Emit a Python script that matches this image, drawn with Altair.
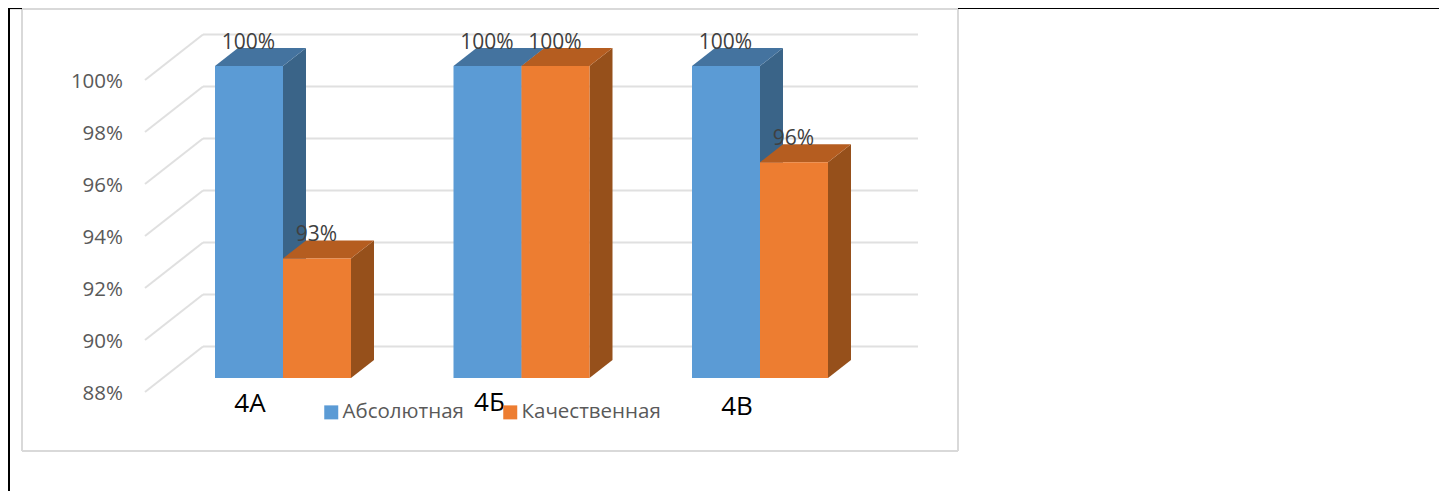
import altair as alt
import pandas as pd

categories = ["4А", "4Б", "4В"]
series_names = ["Абсолютная", "Качественная"]
absolute = [100, 100, 100]
quality = [92.6, 100, 96.3]
ticks = [88, 90, 92, 94, 96, 98, 100]
category_dy = [26, 25, 29]
category_dx = [-33, -32, -23]

W, H = 1431, 483
PX_X = 238.5      # pixels per category step
X0 = 283 - 8      # pixel of category 0 centre inside the plot
PX_Y = 26.0       # pixels per percentage point
Y0 = 378 - 8      # pixel of 88% on the bar plane


def ux(p):
    return p / PX_X


def uy(p):
    return p / PX_Y


x_scale = alt.Scale(domain=[-X0 / PX_X, (W - X0) / PX_X], nice=False, zero=False)
y_scale = alt.Scale(domain=[88 - (H - Y0) / PX_Y, 88 + Y0 / PX_Y], nice=False, zero=False)
xq = lambda f: alt.X(f, type="quantitative", scale=x_scale, axis=None)
yq = lambda f: alt.Y(f, type="quantitative", scale=y_scale, axis=None)

BAR = ux(68)
DX, DY = ux(23), uy(18)
BACK = uy(31.5)
FRONT = -uy(14)
WALL_L, WALL_R, DIAG_L = ux(203 - 283), ux(918 - 283), ux(145 - 283)

front, side, top, labels = [], [], [], []
for s, (name, vals) in enumerate(zip(series_names, [absolute, quality])):
    for c, v in enumerate(vals):
        l = c - BAR + s * BAR
        r = l + BAR
        key = f"{s}-{c}"
        front.append(dict(series=name, x=l, x2=r, y=88, y2=v))
        side += [
            dict(key=key, s=s, x=r, lo=88, hi=v),
            dict(key=key, s=s, x=r + DX, lo=88 + DY, hi=v + DY),
        ]
        top += [
            dict(key=key, s=s, y=v, l=l, r=r),
            dict(key=key, s=s, y=v + DY, l=l + DX, r=r + DX),
        ]
        labels.append(dict(x=l, y=v, t=f"{round(v)}%"))

grid_h = pd.DataFrame([dict(y=t + BACK, x=WALL_L, x2=WALL_R) for t in ticks])
grid_d = pd.DataFrame(
    [dict(k=t, x=DIAG_L, y=t + FRONT) for t in ticks] + [dict(k=t, x=WALL_L, y=t + BACK) for t in ticks]
)
cats = pd.DataFrame(
    [dict(t=n, x=i + ux(dx), y=88 - uy(dy)) for i, (n, dy, dx) in enumerate(zip(categories, category_dy, category_dx))]
)
tick_df = pd.DataFrame([dict(v=t, x=DIAG_L - ux(22), y=t + FRONT, t=f"{t}%") for t in ticks])
side_df, top_df, front_df, labels_df = map(pd.DataFrame, (side, top, front, labels))

FONT = "Open Sans"
GRID = "#E0E0E0"
FRAME = "#D9D9D9"
SIDE = ["#3A6488", "#96501B"]
TOP = ["#44739F", "#B55D20"]
COL = ["#5B9BD5", "#ED7D31"]


def deco(x, x2, y, y2, color, width):
    return alt.Chart(pd.DataFrame({"a": [0]})).mark_rule(color=color, strokeWidth=width).encode(
        x=alt.value(x), x2=alt.value(x2), y=alt.value(y), y2=alt.value(y2)
    )


frame = [
    deco(14, 950, 1, 1, FRAME, 2),
    deco(14, 950, 443, 443, FRAME, 2),
    deco(14, 14, 0, 443, FRAME, 2),
    deco(950, 950, 0, 443, FRAME, 2),
    deco(1, 14, 0.5, 0.5, "#000000", 1.2),
    deco(950, W, 0.5, 0.5, "#000000", 1.2),
    deco(1, 1, 0, H, "#000000", 2),
]

gh = alt.Chart(grid_h).mark_rule(color=GRID, strokeWidth=2).encode(x=xq("x"), x2="x2", y=yq("y"))
gd = alt.Chart(grid_d).mark_line(color=GRID, strokeWidth=2).encode(x=xq("x"), y=yq("y"), detail="k:N")

faces = []
for s in (0, 1):
    faces.append(
        alt.Chart(side_df[side_df.s == s]).mark_area(color=SIDE[s], orient="vertical").encode(
            x=xq("x"), y=alt.Y("lo", type="quantitative", scale=y_scale, axis=None, stack=None), y2="hi", detail="key:N"
        )
    )
    faces.append(
        alt.Chart(top_df[top_df.s == s]).mark_area(color=TOP[s], orient="horizontal").encode(
            y=yq("y"), x=alt.X("l", type="quantitative", scale=x_scale, axis=None, stack=None), x2="r", detail="key:N"
        )
    )

bars = alt.Chart(front_df).mark_rect().encode(
    x=xq("x"),
    x2="x2",
    y=yq("y"),
    y2="y2",
    color=alt.Color(
        "series:N",
        scale=alt.Scale(domain=series_names, range=COL),
        legend=alt.Legend(
            title=None,
            orient="none",
            legendX=313,
            legendY=394,
            direction="horizontal",
            columns=2,
            symbolType="square",
            symbolSize=196,
            symbolStrokeWidth=0,
            labelFont=FONT,
            labelFontSize=20.5,
            labelColor="#595959",
            labelOffset=1,
            columnPadding=36,
        ),
    ),
)

tick_labels = alt.Chart(tick_df).mark_text(
    font=FONT, fontSize=20.5, color="#595959", align="right", baseline="middle", dy=2
).encode(x=xq("x"), y=yq("y"), text="t:N")

data_labels = alt.Chart(labels_df).mark_text(
    font=FONT, fontSize=21, color="#404040", dx=33.5, dy=-23.5, align="center", baseline="middle"
).encode(x=xq("x"), y=yq("y"), text="t:N")

cat_labels = alt.Chart(cats).mark_text(
    font=FONT, fontSize=26, color="#000000", align="center", baseline="middle"
).encode(x=xq("x"), y=yq("y"), text="t:N")

chart = alt.layer(*frame, gh, gd, *faces, bars, tick_labels, data_labels, cat_labels).properties(
    width=W, height=H, padding=0, autosize=alt.AutoSizeParams(type="none")
).configure_view(stroke=None)

chart.save("out.html", embed_options={"renderer": "svg", "actions": False})
